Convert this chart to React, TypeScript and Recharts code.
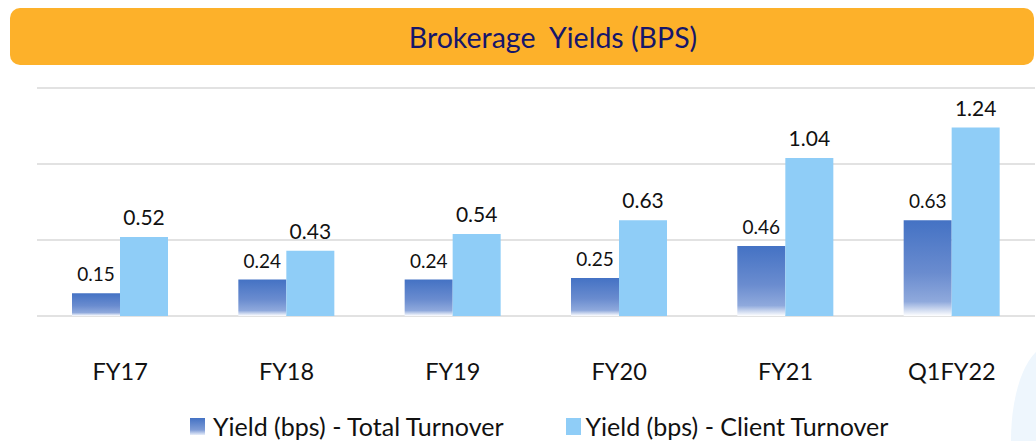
import React from "react";
import { BarChart, Bar, XAxis, YAxis, CartesianGrid, Legend, LabelList } from "recharts";

const categories = ["FY17", "FY18", "FY19", "FY20", "FY21", "Q1FY22"];
const totalTurnover = [0.15, 0.24, 0.24, 0.25, 0.46, 0.63];
const clientTurnover = [0.52, 0.43, 0.54, 0.63, 1.04, 1.24];
const yTicks = [0, 0.5, 1, 1.5];
const seriesNames = ["Yield (bps) - Total Turnover", "Yield (bps) - Client Turnover"];

const data = categories.map((c, i) => ({
  name: c,
  total: totalTurnover[i],
  client: clientTurnover[i],
}));

const FONT = "Lato, 'Open Sans', sans-serif";
const DARK = "#4472C4";
const LIGHT = "#8FCDF7";

const XTick = (props: any) => {
  const { x, payload } = props;
  return (
    <text x={x} y={380} textAnchor="middle" fontFamily={FONT} fontSize={23.5} fill="#111">
      {payload.value}
    </text>
  );
};

const LegendContent = () => (
  <div style={{ height: 30, display: "flex", alignItems: "center", fontFamily: FONT, fontSize: 25, color: "#111", paddingLeft: 153, whiteSpace: "nowrap" }}>
    <span style={{ width: 15, height: 17, background: "linear-gradient(#4472C4, #7f9cd6 70%, #e8eefa)", display: "inline-block", marginRight: 8 }} />
    <span style={{ marginRight: 62 }}>{seriesNames[0]}</span>
    <span style={{ width: 15, height: 17, background: LIGHT, display: "inline-block", marginRight: 5 }} />
    <span>{seriesNames[1]}</span>
  </div>
);

export default function App() {
  return (
    <div style={{ position: "absolute", left: 0, top: 0, width: 1036, height: 441, overflow: "hidden", background: "#fff" }}>
      <div style={{ position: "absolute", left: 1011, top: 345, width: 80, height: 190, borderRadius: "50%", background: "#EEF6FD" }} />
      <div
        style={{
          position: "absolute",
          left: 10,
          top: 8,
          width: 1024,
          height: 57,
          borderRadius: 10,
          background: "#FDB12A",
          display: "flex",
          alignItems: "center",
          justifyContent: "center",
          fontFamily: FONT,
          fontSize: 28.5,
          color: "#16166A",
          whiteSpace: "pre",
          paddingLeft: 62,
          boxSizing: "border-box",
        }}
      >
        {"Brokerage  Yields (BPS)"}
      </div>
      <div style={{ position: "absolute", left: 0, top: 0 }}>
        <BarChart
          width={1036}
          height={441}
          data={data}
          margin={{ top: 88, right: 1, left: 37, bottom: 0 }}
          barGap={0}
          barSize={48}
        >
          <defs>
            <linearGradient id="darkGrad" x1="0" y1="0" x2="0" y2="1">
              <stop offset="0%" stopColor={DARK} />
              <stop offset="55%" stopColor="#6a8ccf" />
              <stop offset="85%" stopColor="#8fa9dc" />
              <stop offset="100%" stopColor="#ffffff" />
            </linearGradient>
          </defs>
          <CartesianGrid vertical={false} stroke="#d9d9d9" strokeWidth={1.5} />
          <XAxis dataKey="name" axisLine={false} tickLine={false} height={95} tick={<XTick />} interval={0} />
          <YAxis hide domain={[0, 1.5]} ticks={yTicks} />
          <Legend verticalAlign="bottom" content={<LegendContent />} height={30} />
          <Bar dataKey="total" name={seriesNames[0]} fill="url(#darkGrad)" isAnimationActive={false}>
            <LabelList dataKey="total" position="top" offset={12} fontFamily={FONT} fontSize={19} fill="#111" />
          </Bar>
          <Bar dataKey="client" name={seriesNames[1]} fill={LIGHT} isAnimationActive={false}>
            <LabelList dataKey="client" position="top" offset={12} fontFamily={FONT} fontSize={21} fill="#111" />
          </Bar>
        </BarChart>
      </div>
    </div>
  );
}
